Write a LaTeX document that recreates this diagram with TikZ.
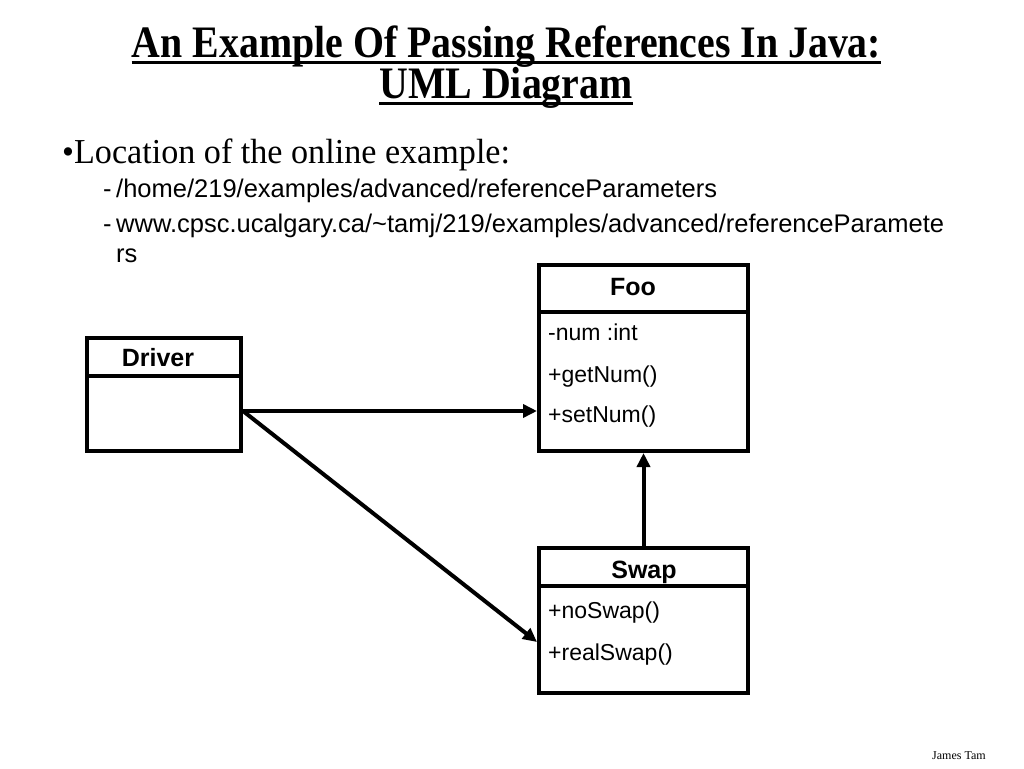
\documentclass[tikz,border=0pt]{standalone}
\usepackage{fontspec}
\setmainfont{Liberation Serif}
\setsansfont{Liberation Sans}
\usetikzlibrary{arrows.meta}
\begin{document}
\begin{tikzpicture}[x=1pt,y=-1pt,
  txt/.style={inner sep=0pt, anchor=base west},
  ttl/.style={inner sep=0pt, anchor=base, font=\fontsize{45}{45}\selectfont\bfseries},
  ul/.style={line width=3pt},
  cls/.style={draw, line width=4pt, inner sep=0pt, anchor=north west},
  div/.style={line width=4pt},
  cname/.style={inner sep=0pt, anchor=base, font=\sffamily\bfseries\fontsize{25}{25}\selectfont},
  member/.style={inner sep=0pt, anchor=base west, font=\sffamily\fontsize{23}{23}\selectfont},
  sub/.style={inner sep=0pt, anchor=base west, font=\sffamily\fontsize{25.5}{25.5}\selectfont},
  arr/.style={line width=4pt, -{Triangle[length=14pt,width=13pt]}}
]
\useasboundingbox (0,0) rectangle (1024,768);
% title
\node[ttl] (t1) at (506.5,57) {\scalebox{0.885}[1]{An Example Of Passing References In Java:}};
\node[ttl] (t2) at (506,98) {\scalebox{0.885}[1]{UML Diagram}};
\draw[ul] ([yshift=-5pt]t1.base west) -- ([yshift=-5pt]t1.base east);
\draw[ul] ([yshift=-5pt]t2.base west) -- ([yshift=-5pt]t2.base east);
% bullets
\node[txt, font=\fontsize{35}{35}\selectfont] (b1) at (62,163) {\scalebox{0.975}[1]{\textbullet Location of the online example:}};
\node[sub] (s1d) at (103,197) {-};
\node[sub] (s1) at (116,197) {/home/219/examples/advanced/referenceParameters};
\node[sub] (s2d) at (103,232) {-};
\node[sub] (s2) at (116,232) {www.cpsc.ucalgary.ca/\textasciitilde tamj/219/examples/advanced/referenceParamete};
\node[sub] (s3) at (116,262) {rs};
% Foo
\node[cls, minimum width=209pt, minimum height=186pt] (foo) at (537,263) {};
\draw[div] (537,312) -- (746,312);
\node[cname] (fooname) at (633,295) {Foo};
\node[member] (f1) at (548,340) {-num :int};
\node[member] (f2) at (548,382) {+getNum()};
\node[member] (f3) at (548,422) {+setNum()};
% Driver
\node[cls, minimum width=154pt, minimum height=113pt] (driver) at (85,336) {};
\draw[div] (85,376) -- (239,376);
\node[cname] (drivername) at (158,366) {Driver};
% Swap
\node[cls, minimum width=209pt, minimum height=145pt] (swap) at (537,546) {};
\draw[div] (537,586) -- (746,586);
\node[cname] (swapname) at (644,578) {Swap};
\node[member] (w1) at (548,618) {+noSwap()};
\node[member] (w2) at (548,660) {+realSwap()};
% connectors
\draw[arr] ([yshift=-16.5pt]driver.east) -- ([yshift=-53pt]foo.west);
\draw[arr] ([yshift=-16.5pt]driver.east) -- ([yshift=-21.5pt]swap.west);
\draw[arr] (swap.north) -- (foo.south);
% footer
\node[txt, font=\fontsize{12}{12}\selectfont] (foot) at (932,759) {James Tam};
\end{tikzpicture}
\end{document}
